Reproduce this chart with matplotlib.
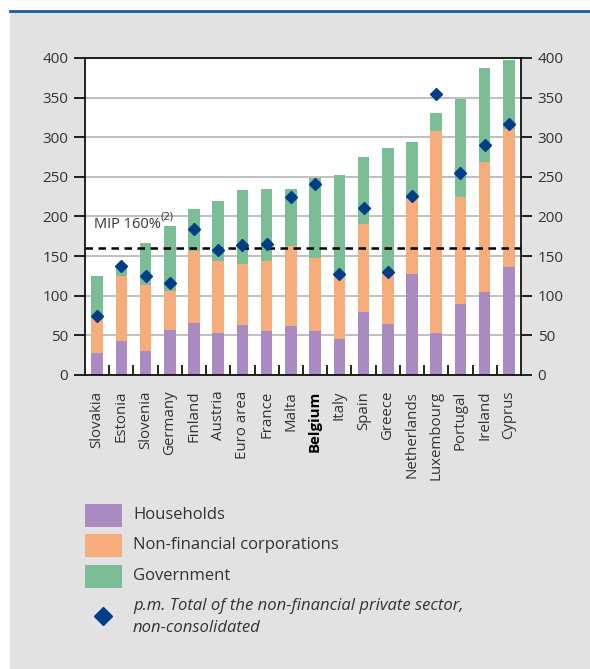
import numpy as np
import matplotlib
matplotlib.use("Agg")
import matplotlib.pyplot as plt
from matplotlib.patches import Rectangle
from matplotlib.lines import Line2D

plt.rcParams['font.family'] = ['Open Sans', 'DejaVu Sans']

countries = ["Slovakia", "Estonia", "Slovenia", "Germany", "Finland", "Austria",
             "Euro area", "France", "Malta", "Belgium", "Italy", "Spain", "Greece",
             "Netherlands", "Luxembourg", "Portugal", "Ireland", "Cyprus"]
households = [28, 43, 30, 57, 65, 53, 63, 56, 62, 55, 45, 79, 64, 128, 53, 90, 105, 136]
corporations = [44, 82, 83, 49, 91, 91, 77, 88, 101, 93, 81, 111, 65, 94, 255, 134, 164, 175]
government = [53, 10, 54, 82, 54, 75, 94, 91, 72, 100, 126, 85, 158, 72, 22, 124, 118, 86]
private_total = [75, 138, 125, 116, 184, 158, 164, 165, 225, 241, 127, 211, 130, 226, 355, 255, 290, 317]
mip_threshold = 160

c_hh = "#a98bc2"
c_nfc = "#f6ad7b"
c_gov = "#7bbd94"
c_dot = "#003f88"
c_bg = "#e2e2e2"
c_txt = "#333333"

fig = plt.figure(figsize=(5.9, 6.69), dpi=100)
fig.patch.set_facecolor("white")
fig.add_artist(Rectangle((10/590, 0), 1, 1 - 11/669, transform=fig.transFigure,
                         facecolor=c_bg, edgecolor="none", zorder=-10))
fig.add_artist(Line2D([10/590, 1], [1 - 11/669, 1 - 11/669], transform=fig.transFigure,
                      color="#1f5c9e", lw=2))

ax = fig.add_axes([85/590, 1 - 375/669, (521 - 85)/590, (375 - 58)/669])
x = np.arange(len(countries))
hh = np.array(households)
nfc = np.array(corporations)
gov = np.array(government)
w = 0.48
ax.bar(x, hh, w, color=c_hh, zorder=2)
ax.bar(x, nfc, w, bottom=hh, color=c_nfc, zorder=2)
ax.bar(x, gov, w, bottom=hh + nfc, color=c_gov, zorder=2)
ax.plot(x, private_total, linestyle="none", marker="D", ms=6.2, color=c_dot, zorder=4)
ax.axhline(mip_threshold, color="black", lw=1.8, ls=(0, (3, 2.2)), zorder=3)
ax.text(-0.12, 180, "MIP 160%", fontsize=10.5, color=c_txt, ha="left", va="bottom")
ax.text(2.62, 193, "(2)", fontsize=8, color=c_txt, ha="left", va="bottom")

ax.set_xlim(-0.5, len(countries) - 0.5)
ax.set_ylim(0, 400)
ax.set_yticks(range(0, 401, 50))
ax.yaxis.grid(True, color="#b5b5b5", lw=1.2, zorder=0)
ax.set_axisbelow(True)
for s in ax.spines.values():
    s.set_linewidth(1.2)
ax.tick_params(axis="y", direction="out", length=8, width=1.2, labelsize=11,
               labelcolor=c_txt, right=True, labelright=True, pad=4)

ax.set_xticks(x[:-1] + 0.5)
ax.set_xticklabels([])
ax.tick_params(axis="x", direction="in", length=7, width=1.2)
for i, name in enumerate(countries):
    ax.text(i, -20, name, rotation=90, ha="center", va="top", fontsize=10.8,
            color="black" if name == "Belgium" else c_txt,
            fontweight="bold" if name == "Belgium" else "normal")

# legend below the chart
items = [("Households", c_hh, 515), ("Non-financial corporations", c_nfc, 545),
         ("Government", c_gov, 576)]
for label, col, yp in items:
    fig.add_artist(Rectangle((85/590, 1 - (yp + 11.5)/669), 37/590, 23/669,
                             transform=fig.transFigure, facecolor=col, edgecolor="none"))
    fig.text(133/590, 1 - yp/669, label, fontsize=12, color=c_txt, va="center")
fig.add_artist(Line2D([103/590], [1 - 616/669], transform=fig.transFigure,
                      marker="D", ms=9, color=c_dot, linestyle="none"))
fig.text(133/590, 1 - 606/669, "p.m. Total of the non-financial private sector,",
         fontsize=12, style="italic", color=c_txt, va="center")
fig.text(133/590, 1 - 628/669, "non-consolidated",
         fontsize=12, style="italic", color=c_txt, va="center")

fig.savefig("out.png", dpi=100)
